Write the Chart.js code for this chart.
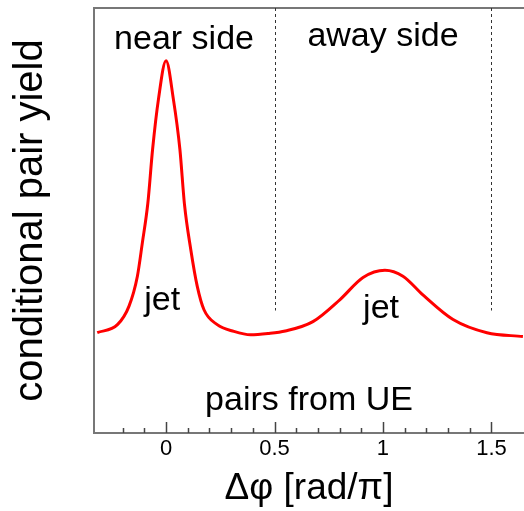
<!DOCTYPE html>
<html>
<head>
<meta charset="utf-8">
<script src="https://cdn.jsdelivr.net/npm/chart.js@4.4.1/dist/chart.umd.min.js"></script>
<style>
  html, body { margin: 0; padding: 0; background: #fff; }
  #c { display: block; }
</style>
</head>
<body>
<canvas id="c" width="524" height="511"></canvas>
<script>
// ---- data (Δφ in units of π, yield in arbitrary units) ----
const dphi = [-0.317, -0.224, -0.171, -0.132, -0.109, -0.084, -0.062, -0.035, 0.000,
              0.034, 0.064, 0.085, 0.114, 0.144, 0.175, 0.236, 0.313, 0.390, 0.470,
              0.550, 0.677, 0.802, 0.908, 1.009, 1.092, 1.184, 1.323, 1.479, 1.645];
const pairYield = [0.236, 0.255, 0.298, 0.369, 0.448, 0.540, 0.667, 0.785, 0.876,
                   0.785, 0.667, 0.538, 0.432, 0.345, 0.290, 0.255, 0.239, 0.231, 0.234,
                   0.240, 0.262, 0.314, 0.366, 0.383, 0.369, 0.325, 0.267, 0.236, 0.227];
const majorTicks = [0, 0.5, 1, 1.5];
const majorTickLabels = ['0', '0.5', '1', '1.5'];
const dividers = [0.5, 1.5];
const dividerTop = 1.0;
const dividerBottom = 0.288;
const labelTexts = ['near side', 'away side', 'jet', 'jet', 'pairs from UE'];
const labelX = [0.083, 1.0, -0.018, 0.991, 0.659];
const labelY = [0.903, 0.910, 0.290, 0.271, 0.054];

const FONT = "'Liberation Sans', Arial, Helvetica, sans-serif";
const AXIS_COLOR = '#777777';

const pts = dphi.map((v, i) => ({ x: v, y: pairYield[i] }));

const overlay = {
  id: 'overlay',
  beforeDatasetsDraw(chart) {
    const { ctx, chartArea: a, scales: { x, y } } = chart;
    ctx.save();
    ctx.strokeStyle = AXIS_COLOR;
    ctx.lineWidth = 2;
    ctx.beginPath();
    ctx.moveTo(a.left - 1, a.top);
    ctx.lineTo(a.right, a.top);
    ctx.stroke();
    // inward ticks
    ctx.lineWidth = 1.5;
    ctx.strokeStyle = '#444';
    ctx.beginPath();
    x.ticks.forEach(t => {
      const v = t.value;
      const k = Math.round(v * 10);
      if (Math.abs(v * 10 - k) > 1e-6) return;
      const px = Math.round(x.getPixelForValue(v)) + 0.5;
      const major = majorTicks.some(m => Math.abs(m - v) < 1e-6);
      ctx.moveTo(px, a.bottom);
      ctx.lineTo(px, a.bottom - (major ? 11 : 5));
    });
    ctx.stroke();
    // dashed dividers
    ctx.strokeStyle = '#333';
    ctx.lineWidth = 1;
    ctx.setLineDash([3, 3]);
    dividers.forEach(d => {
      const px = Math.round(x.getPixelForValue(d)) + 0.5;
      ctx.beginPath();
      ctx.moveTo(px, y.getPixelForValue(dividerTop));
      ctx.lineTo(px, y.getPixelForValue(dividerBottom));
      ctx.stroke();
    });
    ctx.restore();
  },
  afterDatasetsDraw(chart) {
    const { ctx, scales: { x, y } } = chart;
    ctx.save();
    ctx.fillStyle = '#000';
    ctx.textAlign = 'center';
    ctx.textBaseline = 'alphabetic';
    ctx.font = '34px ' + FONT;
    labelTexts.forEach((t, i) => {
      ctx.fillText(t, x.getPixelForValue(labelX[i]), y.getPixelForValue(labelY[i]));
    });
    ctx.restore();
  }
};

new Chart(document.getElementById('c'), {
  type: 'line',
  data: {
    datasets: [{
      data: pts,
      borderColor: '#ff0000',
      borderWidth: 3,
      pointRadius: 0,
      fill: false,
      cubicInterpolationMode: 'monotone'
    }]
  },
  options: {
    responsive: false,
    devicePixelRatio: 1,
    animation: false,
    layout: { padding: { top: 8, right: 0, left: 0, bottom: 0 } },
    plugins: { legend: { display: false }, tooltip: { enabled: false } },
    scales: {
      x: {
        type: 'linear',
        min: -0.332,
        max: 1.65,
        afterFit(s) { s.height = 78; s.paddingLeft = 0; s.paddingRight = 0; },
        grid: { display: false, drawTicks: false },
        border: { display: true, color: AXIS_COLOR, width: 2 },
        ticks: {
          stepSize: 0.1,
          autoSkip: false,
          maxRotation: 0,
          padding: 3,
          color: '#000',
          font: { family: FONT, size: 22 },
          callback(v) {
            const i = majorTicks.findIndex(m => Math.abs(m - v) < 1e-6);
            return i >= 0 ? majorTickLabels[i] : '';
          }
        },
        title: {
          display: true,
          text: 'Δφ [rad/π]',
          color: '#000',
          font: { family: FONT, size: 37 },
          padding: { top: 0, bottom: 0 }
        }
      },
      y: {
        type: 'linear',
        min: 0,
        max: 1,
        afterFit(s) { s.width = 94; },
        grid: { display: false, drawTicks: false },
        border: { display: true, color: AXIS_COLOR, width: 2 },
        ticks: { display: false },
        title: {
          display: true,
          text: 'conditional pair yield',
          color: '#000',
          font: { family: FONT, size: 40 },
          padding: { top: 7, bottom: 0 }
        }
      }
    }
  },
  plugins: [overlay]
});
</script>
</body>
</html>
